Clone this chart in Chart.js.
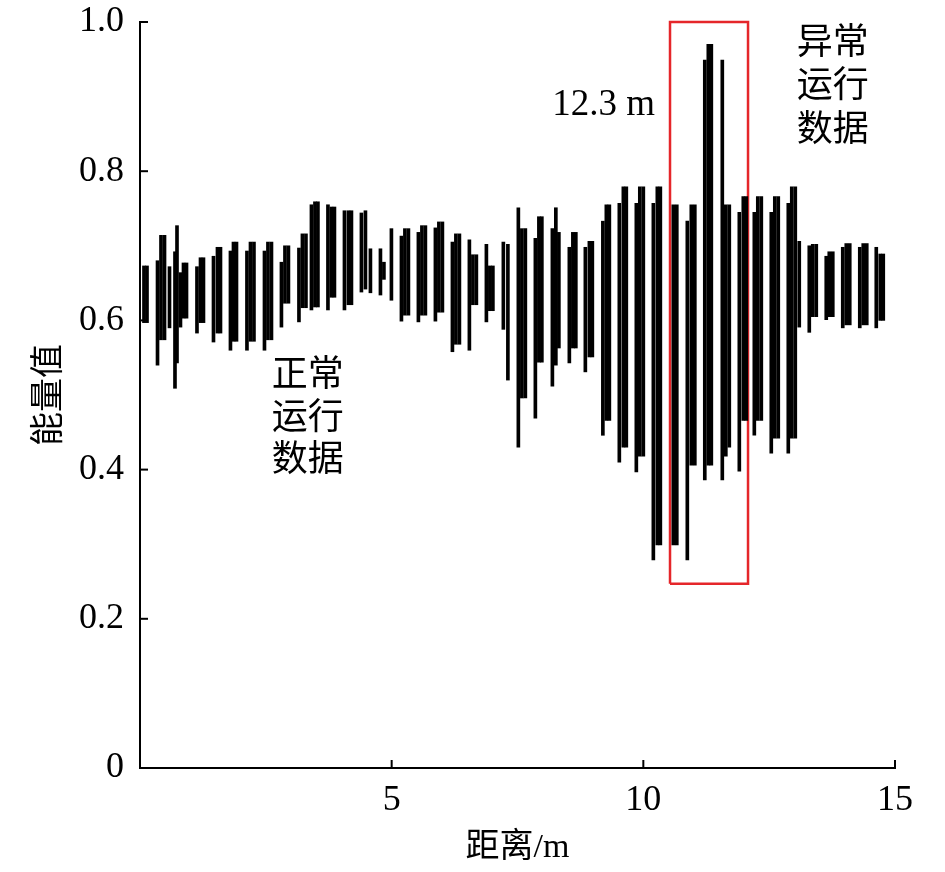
<!DOCTYPE html>
<html>
<head>
<meta charset="utf-8">
<script src="https://cdn.jsdelivr.net/npm/chart.js@4/dist/chart.umd.min.js"></script>
<style>
  body { margin: 0; background: #fff; }
</style>
</head>
<body>
<canvas id="energyChart" width="945" height="872"></canvas>
<script>
// distance along the track (m) of each vertical stroke, with its low and high energy value
const distM = [
  0.079, 0.139,
  0.348, 0.417, 0.487,
  0.586,
  0.695, 0.735, 0.804, 0.864, 0.924,
  1.132, 1.202, 1.261,
  1.460, 1.539, 1.599,
  1.797, 1.857, 1.917,
  2.125, 2.195, 2.264,
  2.473, 2.542, 2.612,
  2.810, 2.880, 2.949,
  3.158, 3.227, 3.297,
  3.406, 3.476, 3.535,
  3.734, 3.803, 3.863,
  4.062, 4.141, 4.201,
  4.399, 4.479,
  4.578,
  4.777, 4.846,
  4.995,
  5.194, 5.263, 5.333,
  5.531, 5.601, 5.670,
  5.869, 5.938, 6.008,
  6.207, 6.276, 6.346,
  6.544, 6.614, 6.683,
  6.882, 6.951, 7.011,
  7.219, 7.309,
  7.517, 7.587, 7.656,
  7.855, 7.925, 7.984,
  8.193, 8.262, 8.322,
  8.530, 8.600, 8.659,
  8.848, 8.928, 8.987,
  9.196, 9.265, 9.325,
  9.523, 9.603, 9.662,
  9.861, 9.930, 10.000,
  10.199, 10.278, 10.338,
  10.596, 10.665,
  10.874, 10.953, 11.023,
  11.221, 11.291, 11.351,
  11.569, 11.639, 11.708,
  11.907, 11.986, 12.046,
  12.205, 12.274, 12.344,
  12.542, 12.612, 12.681,
  12.880, 12.949, 13.019,
  13.098,
  13.297, 13.366, 13.436,
  13.634, 13.694, 13.764,
  13.962, 14.032, 14.101,
  14.300, 14.369, 14.439,
  14.628, 14.707, 14.767
];
const lowVal = [
  0.597, 0.597,
  0.540, 0.574, 0.574,
  0.590,
  0.509, 0.543, 0.591, 0.603, 0.603,
  0.583, 0.597, 0.597,
  0.571, 0.583, 0.583,
  0.560, 0.572, 0.572,
  0.560, 0.572, 0.572,
  0.560, 0.574, 0.574,
  0.591, 0.623, 0.623,
  0.598, 0.617, 0.617,
  0.614, 0.618, 0.618,
  0.614, 0.631, 0.631,
  0.614, 0.621, 0.621,
  0.638, 0.642,
  0.637,
  0.634, 0.655,
  0.627,
  0.599, 0.607, 0.607,
  0.598, 0.607, 0.607,
  0.599, 0.611, 0.611,
  0.558, 0.568, 0.568,
  0.560, 0.621, 0.621,
  0.598, 0.613, 0.613,
  0.588, 0.520,
  0.430, 0.496, 0.496,
  0.469, 0.544, 0.544,
  0.512, 0.540, 0.563,
  0.543, 0.563, 0.563,
  0.531, 0.551, 0.551,
  0.446, 0.466, 0.466,
  0.410, 0.430, 0.430,
  0.397, 0.418, 0.418,
  0.279, 0.299, 0.299,
  0.299, 0.299,
  0.279, 0.406, 0.406,
  0.386, 0.406, 0.406,
  0.386, 0.418, 0.430,
  0.398, 0.466, 0.466,
  0.446, 0.466, 0.466,
  0.422, 0.442, 0.442,
  0.422, 0.442, 0.442,
  0.591,
  0.584, 0.605, 0.605,
  0.601, 0.605, 0.605,
  0.590, 0.594, 0.594,
  0.590, 0.594, 0.594,
  0.590, 0.600, 0.600
];
const highVal = [
  0.673, 0.673,
  0.680, 0.714, 0.714,
  0.672,
  0.692, 0.727, 0.664, 0.677, 0.677,
  0.672, 0.684, 0.684,
  0.686, 0.698, 0.698,
  0.693, 0.705, 0.705,
  0.693, 0.705, 0.705,
  0.693, 0.705, 0.705,
  0.678, 0.700, 0.700,
  0.697, 0.716, 0.716,
  0.755, 0.759, 0.759,
  0.755, 0.752, 0.752,
  0.747, 0.747, 0.747,
  0.744, 0.747,
  0.696,
  0.696, 0.678,
  0.723,
  0.713, 0.723, 0.723,
  0.718, 0.727, 0.727,
  0.724, 0.732, 0.732,
  0.705, 0.716, 0.716,
  0.708, 0.688, 0.688,
  0.702, 0.673, 0.673,
  0.705, 0.702,
  0.751, 0.723, 0.723,
  0.710, 0.739, 0.739,
  0.723, 0.751, 0.718,
  0.698, 0.718, 0.718,
  0.698, 0.706, 0.706,
  0.733, 0.755, 0.755,
  0.757, 0.779, 0.779,
  0.757, 0.779, 0.779,
  0.757, 0.779, 0.779,
  0.755, 0.755,
  0.733, 0.755, 0.755,
  0.949, 0.970, 0.970,
  0.949, 0.755, 0.755,
  0.745, 0.766, 0.766,
  0.745, 0.766, 0.766,
  0.745, 0.766, 0.766,
  0.757, 0.779, 0.779,
  0.706,
  0.700, 0.702, 0.702,
  0.686, 0.692, 0.692,
  0.698, 0.703, 0.703,
  0.698, 0.703, 0.703,
  0.698, 0.689, 0.689
];

const xTicks = [5, 10, 15];
const yTicks = [0, 0.2, 0.4, 0.6, 0.8, 1.0];

// abnormal region box (m, energy)
const boxX = [10.53, 12.08];
const boxY = [0.247, 1.0];

const peakLabel = "12.3 m";
const normalNote = ["正常", "运行", "数据"];
const abnormalNote = ["异常", "运行", "数据"];

const serif = "'Liberation Serif', 'Noto Sans CJK SC', serif";
const cjk = "'Noto Sans CJK SC', sans-serif";

// inward tick marks + text notes
const decorPlugin = {
  id: "decor",
  afterDraw(chart) {
    const { ctx, scales: { x, y } } = chart;
    ctx.save();
    ctx.strokeStyle = "#000";
    ctx.lineWidth = 2;
    xTicks.forEach(v => {
      const px = x.getPixelForValue(v);
      ctx.beginPath();
      ctx.moveTo(px, y.bottom);
      ctx.lineTo(px, y.bottom - 8);
      ctx.stroke();
    });
    yTicks.forEach(v => {
      const py = y.getPixelForValue(v);
      ctx.beginPath();
      ctx.moveTo(x.left, py);
      ctx.lineTo(x.left + 8, py);
      ctx.stroke();
    });

    ctx.fillStyle = "#000";
    ctx.textBaseline = "middle";
    ctx.font = "37px " + serif;
    ctx.textAlign = "right";
    ctx.fillText(peakLabel, x.getPixelForValue(10.23), y.getPixelForValue(0.889));

    ctx.font = "36px " + cjk;
    ctx.textAlign = "left";
    const normalY = [0.531, 0.473, 0.416];
    normalNote.forEach((t, i) => {
      ctx.fillText(t, x.getPixelForValue(2.62), y.getPixelForValue(normalY[i]));
    });
    const abnormalY = [0.976, 0.918, 0.859];
    abnormalNote.forEach((t, i) => {
      ctx.fillText(t, x.getPixelForValue(13.05), y.getPixelForValue(abnormalY[i]));
    });
    ctx.restore();
  }
};

const ctx = document.getElementById("energyChart").getContext("2d");
new Chart(ctx, {
  type: "bar",
  data: {
    datasets: [
      {
        type: "bar",
        data: distM.map((d, i) => ({ x: d, y: [lowVal[i], highVal[i]] })),
        backgroundColor: "#000",
        borderWidth: 0,
        barThickness: 3,
      },
      {
        type: "line",
        data: [
          { x: boxX[0], y: boxY[0] },
          { x: boxX[0], y: boxY[1] },
          { x: boxX[1], y: boxY[1] },
          { x: boxX[1], y: boxY[0] },
          { x: boxX[0], y: boxY[0] },
        ],
        borderColor: "#e5262a",
        borderWidth: 2.5,
        pointRadius: 0,
        fill: false,
        tension: 0,
        clip: false,
      },
    ],
  },
  options: {
    responsive: false,
    animation: false,
    layout: { padding: { top: 22, right: 50, left: 0, bottom: 0 } },
    plugins: {
      legend: { display: false },
      tooltip: { enabled: false },
    },
    scales: {
      x: {
        type: "linear",
        min: 0,
        max: 15,
        offset: false,
        afterBuildTicks: s => { s.ticks = xTicks.map(v => ({ value: v })); },
        afterFit: s => { s.height = 104; s.paddingLeft = 0; s.paddingRight = 0; },
        grid: { display: false, drawTicks: false, offset: false },
        border: { color: "#000", width: 2 },
        ticks: {
          color: "#000",
          font: { family: serif, size: 36 },
          padding: 11,
          maxRotation: 0,
          callback: v => String(v),
        },
        title: {
          display: true,
          text: "距离/m",
          color: "#000",
          font: { family: serif, size: 34 },
          padding: { top: 0, bottom: 4 },
        },
      },
      y: {
        min: 0,
        max: 1,
        afterBuildTicks: s => { s.ticks = yTicks.map(v => ({ value: v })); },
        afterFit: s => { s.width = 140; s.paddingTop = 0; s.paddingBottom = 0; },
        grid: { display: false, drawTicks: false },
        border: { color: "#000", width: 2 },
        ticks: {
          color: "#000",
          font: { family: serif, size: 36 },
          padding: 16,
          callback: v => (v === 0 ? "0" : v.toFixed(1)),
        },
        title: {
          display: true,
          text: "能量值",
          color: "#000",
          font: { family: serif, size: 34 },
          padding: { top: 30, bottom: 0 },
        },
      },
    },
  },
  plugins: [decorPlugin],
});
</script>
</body>
</html>
